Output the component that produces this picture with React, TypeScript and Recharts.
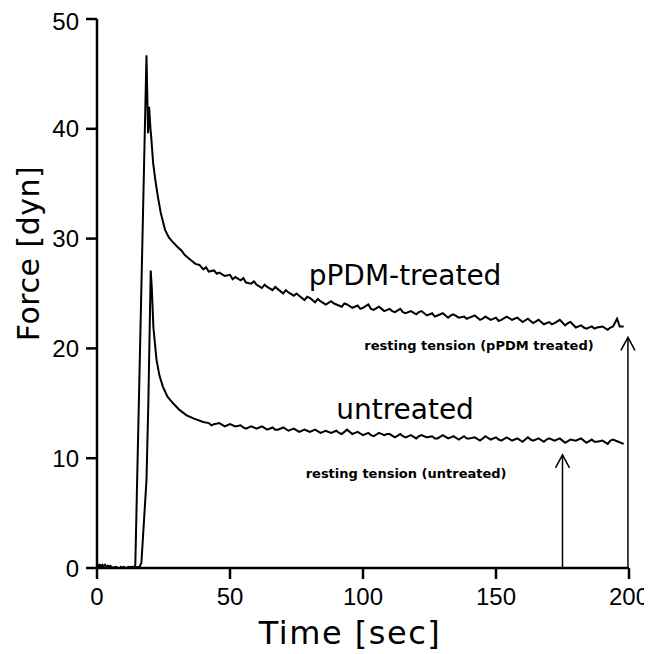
import { LineChart, Line, XAxis, YAxis, ReferenceLine, ReferenceDot } from "recharts";

// [time (sec), force (dyn)]
const treatedTrace: number[][] = [
  [0, 0.2], [1, 0.3], [2, 0.1], [3, 0.3], [4, -0.1], [5, 0.2], [6, 0.0], [7, 0.1],
  [8, -0.2], [9, 0.1], [10, -0.1], [11, 0.0], [12, 0.1], [13, 0.0], [14, 0.1], [14.4, 0.3],
  [18.6, 46.7], [19.2, 39.6], [19.6, 42.0], [20.1, 40.0], [20.4, 39.2],
  [21.1, 36.9], [22.0, 35.2], [22.9, 33.8], [24.0, 32.3], [25.6, 30.8], [27, 30.1],
  [28.1, 29.8], [30, 29.3], [31.8, 28.9], [33, 28.5], [35, 28.1], [37, 27.7], [38.5, 27.6],
  [40, 27.2], [41, 27.4], [42, 27.0], [44, 27.1], [45, 26.8], [46, 26.9], [48, 26.6], [50, 26.7],
  [51, 26.3], [52, 26.5], [54, 26.2], [55, 26.4], [56, 26.0], [58, 25.9], [59, 26.1], [60, 25.8],
  [62, 25.5], [63, 25.8], [64, 25.6], [66, 25.3], [67, 25.6], [68, 25.4], [70, 25.0],
  [71, 25.3], [72, 25.1], [74, 24.8], [75, 25.0], [76, 24.8], [78, 24.4], [79, 24.7],
  [80, 24.6], [82, 24.2], [83, 24.5], [84, 24.3], [86, 24.0], [88, 24.3], [89, 24.1],
  [90, 24.0], [92, 23.8], [93, 24.1], [94, 24.0], [96, 23.7], [98, 23.9], [99, 23.6],
  [100, 23.7], [102, 24.0], [103, 23.6], [104, 23.5], [106, 23.8], [107, 23.6], [108, 23.4],
  [110, 23.6], [111, 23.4], [112, 23.3], [114, 23.6], [115, 23.3], [116, 23.2], [118, 23.4],
  [120, 23.1], [121, 23.3], [122, 23.4], [124, 23.0], [126, 23.2], [127, 22.9], [128, 23.0],
  [130, 23.2], [132, 22.8], [133, 23.0], [134, 23.1], [136, 22.8], [138, 22.9], [139, 22.7],
  [140, 22.8], [142, 23.0], [144, 22.6], [145, 22.7], [146, 22.9], [148, 22.6], [150, 22.8],
  [151, 22.5], [152, 22.6], [154, 22.9], [156, 22.6], [157, 22.7], [158, 22.8], [160, 22.4],
  [162, 22.7], [163, 22.5], [164, 22.3], [166, 22.6], [167, 22.4], [168, 22.2], [170, 22.4],
  [171, 22.2], [172, 22.3], [174, 22.6], [176, 22.1], [177, 22.3], [178, 22.4], [180, 21.9],
  [182, 22.1], [183, 21.9], [184, 21.8], [186, 22.0], [187, 21.8], [188, 21.9], [190, 22.0],
  [192, 21.7], [193, 21.9], [194, 22.0], [195.5, 22.7], [196.5, 22.0], [198, 22.0],
];

const untreatedTrace: number[][] = [
  [0, 0.3], [1, 0.1], [2, 0.3], [3, -0.1], [4, 0.2], [5, 0.1], [6, -0.2], [7, 0.1],
  [8, 0.0], [9, -0.1], [10, 0.1], [11, -0.1], [12, 0.0], [13, 0.1], [14, 0.0], [15, 0.1],
  [16, 0.1], [16.7, 0.5], [18.6, 8.0], [19.3, 15.0], [20.2, 27.1], [20.6, 25.5],
  [21.2, 21.9], [22.4, 18.9], [23.5, 17.5], [24.8, 16.5], [26.5, 15.6], [28.6, 15.0],
  [31, 14.4], [33.7, 13.9], [36.5, 13.6], [39.9, 13.3],
  [42, 13.2], [43, 13.0], [44, 13.1], [46, 13.2], [48, 12.9], [49, 13.0], [50, 13.1],
  [52, 12.9], [54, 13.0], [55, 12.8], [56, 12.7], [58, 12.9], [60, 12.7], [61, 12.8],
  [62, 12.9], [64, 12.6], [66, 12.8], [67, 12.6], [68, 12.6], [70, 12.8], [72, 12.5],
  [73, 12.6], [74, 12.7], [76, 12.4], [78, 12.6], [79, 12.5], [80, 12.4], [82, 12.6],
  [84, 12.3], [85, 12.4], [86, 12.5], [88, 12.3], [90, 12.5], [91, 12.3], [92, 12.2],
  [94, 12.6], [96, 12.2], [97, 12.3], [98, 12.4], [100, 12.1], [102, 12.3], [103, 12.1],
  [104, 12.0], [106, 12.3], [108, 12.1], [109, 12.2], [110, 12.2], [112, 11.9], [114, 12.2],
  [115, 12.0], [116, 11.9], [118, 12.1], [120, 11.8], [121, 12.0], [122, 12.1], [124, 11.9],
  [126, 12.0], [127, 11.8], [128, 11.8], [130, 12.1], [132, 11.8], [133, 11.9], [134, 12.0],
  [136, 11.7], [138, 12.0], [139, 11.8], [140, 11.8], [142, 11.9], [144, 11.6], [145, 11.8],
  [146, 12.0], [148, 11.7], [150, 11.9], [151, 11.7], [152, 11.6], [154, 11.9], [156, 11.6],
  [157, 11.7], [158, 11.8], [160, 11.5], [162, 11.9], [163, 11.7], [164, 11.6], [166, 11.8],
  [168, 11.5], [169, 11.7], [170, 11.8], [172, 11.6], [174, 11.8], [175, 11.6], [176, 11.4],
  [178, 11.7], [180, 11.6], [181, 11.7], [182, 11.8], [184, 11.4], [186, 11.7], [187, 11.5],
  [188, 11.5], [190, 11.6], [192, 11.3], [193, 11.6], [194, 11.7], [196, 11.5], [198, 11.3],
];

const xTicks = [0, 50, 100, 150, 200];
const yTicks = [0, 10, 20, 30, 40, 50];

// arrows: [x, tip force]
const arrows = [
  [175, 10.3],
  [199.6, 21.0],
];

const toRows = (trace: number[][]) => trace.map(([t, f]) => ({ t, f }));

const FONT = "'Liberation Sans', Arial, sans-serif";
const LABEL_FONT = "'DejaVu Sans', sans-serif";

const Arrow = (props: any) => {
  const { x1, y1, x2, y2 } = props;
  return (
    <g>
      <line x1={x1} y1={y1} x2={x2} y2={y2} stroke="#000" strokeWidth={1.5} />
      <path
        d={`M${x2 - 7},${y2 + 13} L${x2},${y2} L${x2 + 7},${y2 + 13}`}
        fill="none"
        stroke="#000"
        strokeWidth={1.5}
      />
    </g>
  );
};

const YTitle = (props: any) => {
  const { viewBox } = props;
  const cx = viewBox.x + 20;
  const cy = viewBox.y + viewBox.height / 2 - 40;
  return (
    <text
      x={cx}
      y={cy}
      transform={`rotate(-90, ${cx}, ${cy})`}
      textAnchor="middle"
      dominantBaseline="central"
      fontFamily={LABEL_FONT}
      fontSize={30}
      letterSpacing={0.5}
      fill="#000"
    >
      Force [dyn]
    </text>
  );
};

const XTitle = (props: any) => {
  const { viewBox } = props;
  return (
    <text
      x={viewBox.x + viewBox.width / 2 - 13}
      y={viewBox.y + 76}
      textAnchor="middle"
      fontFamily={LABEL_FONT}
      fontSize={32}
      letterSpacing={1.5}
      fill="#000"
    >
      Time [sec]
    </text>
  );
};

const textLabel = (value: string, size: number, bold = false) => ({
  value,
  position: "center" as const,
  fontSize: size,
  fontFamily: LABEL_FONT,
  fontWeight: bold ? 700 : 400,
  fill: "#000",
});

export default function App() {
  return (
    <LineChart
      width={644}
      height={646}
      margin={{ top: 11, right: 23, bottom: 0, left: 0 }}
      style={{ overflow: "visible" }}
    >
      <XAxis
        type="number"
        dataKey="t"
        domain={[0, 200]}
        ticks={xTicks}
        tickSize={11}
        tickMargin={9}
        height={86}
        axisLine={{ stroke: "#000", strokeWidth: 2.5 }}
        tickLine={{ stroke: "#000", strokeWidth: 2.5 }}
        tick={{ fill: "#000", fontSize: 24, fontFamily: FONT }}
        label={<XTitle />}
        allowDataOverflow
      />
      <YAxis
        type="number"
        domain={[0, 50]}
        ticks={yTicks}
        tickSize={11}
        tickMargin={7}
        width={89}
        axisLine={{ stroke: "#000", strokeWidth: 2.5 }}
        tickLine={{ stroke: "#000", strokeWidth: 2.5 }}
        tick={{ fill: "#000", fontSize: 24, fontFamily: FONT }}
        label={<YTitle />}
        allowDataOverflow
      />
      <Line
        data={toRows(treatedTrace)}
        dataKey="f"
        type="linear"
        stroke="#000"
        strokeWidth={2}
        dot={false}
        isAnimationActive={false}
      />
      <Line
        data={toRows(untreatedTrace)}
        dataKey="f"
        type="linear"
        stroke="#000"
        strokeWidth={2}
        dot={false}
        isAnimationActive={false}
      />
      {arrows.map(([x, tip], i) => (
        <ReferenceLine
          key={i}
          segment={[
            { x, y: 0 },
            { x, y: tip },
          ]}
          shape={<Arrow />}
          ifOverflow="visible"
        />
      ))}
      <ReferenceDot x={115.8} y={26.7} r={0} stroke="none" fill="none" ifOverflow="visible" label={textLabel("pPDM-treated", 28)} />
      <ReferenceDot x={115.8} y={14.5} r={0} stroke="none" fill="none" ifOverflow="visible" label={textLabel("untreated", 28)} />
      <ReferenceDot x={143.6} y={20.3} r={0} stroke="none" fill="none" ifOverflow="visible" label={textLabel("resting tension (pPDM treated)", 13, true)} />
      <ReferenceDot x={116.2} y={8.65} r={0} stroke="none" fill="none" ifOverflow="visible" label={textLabel("resting tension (untreated)", 13, true)} />
    </LineChart>
  );
}
